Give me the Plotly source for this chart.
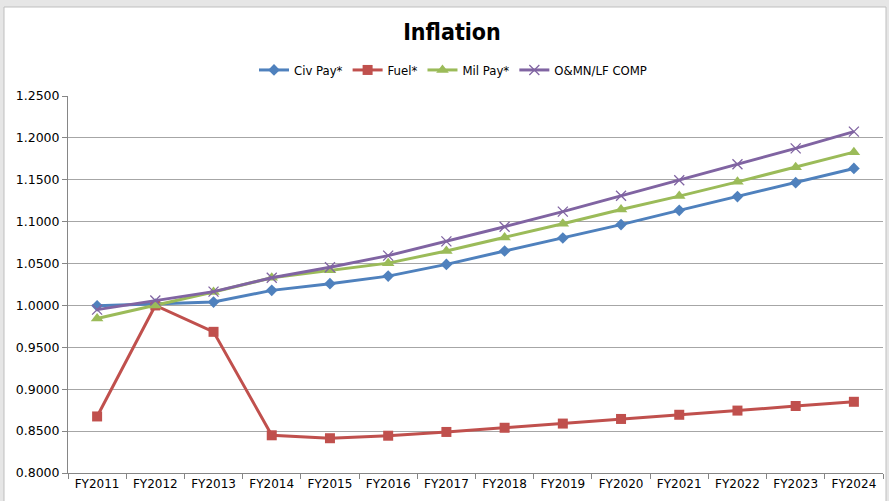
import plotly.graph_objects as go

years = ["FY2011", "FY2012", "FY2013", "FY2014", "FY2015", "FY2016", "FY2017",
         "FY2018", "FY2019", "FY2020", "FY2021", "FY2022", "FY2023", "FY2024"]
civ_pay = [0.9995, 1.0015, 1.0040, 1.0180, 1.0260, 1.0350, 1.0490, 1.0650, 1.0805, 1.0965, 1.1135, 1.1300, 1.1465, 1.1635]
fuel = [0.8675, 1.0000, 0.9685, 0.8450, 0.8415, 0.8445, 0.8490, 0.8540, 0.8590, 0.8645, 0.8695, 0.8745, 0.8800, 0.8850]
mil_pay = [0.9845, 1.0000, 1.0160, 1.0330, 1.0420, 1.0505, 1.0650, 1.0810, 1.0975, 1.1145, 1.1305, 1.1475, 1.1650, 1.1830]
omn = [0.9950, 1.0060, 1.0165, 1.0330, 1.0455, 1.0595, 1.0765, 1.0940, 1.1120, 1.1310, 1.1495, 1.1685, 1.1875, 1.2075]

series = [
    ("Civ Pay*", civ_pay, "#4F81BD", dict(symbol="diamond", size=9)),
    ("Fuel*", fuel, "#C0504D", dict(symbol="square", size=10)),
    ("Mil Pay*", mil_pay, "#9BBB59", dict(symbol="triangle-up", size=11)),
    ("O&MN/LF COMP", omn, "#8064A2", dict(symbol="x-thin-open", size=10, line=dict(width=1.3, color="#8064A2"))),
]

fig = go.Figure()
for name, vals, color, mk in series:
    m = dict(color=color, **mk)
    fig.add_trace(go.Scatter(x=years, y=vals, name=name, mode="lines+markers",
                             line=dict(color=color, width=3), marker=m))

W, H = 889, 501
ml, mr, mt, mb = 68, 6, 96, 28
pw, ph = W - ml - mr, H - mt - mb

def px_x(p):
    return (p - ml) / pw

def px_y(p):
    return 1 - (p - mt) / ph

fig.update_layout(
    width=W, height=H,
    margin=dict(l=ml, r=mr, t=mt, b=mb),
    paper_bgcolor="#E6E6E6",
    plot_bgcolor="rgba(0,0,0,0)",
    title=dict(text="<b>Inflation</b>", x=452 / W, xanchor="center", y=1 - 32 / H, yanchor="middle",
               font=dict(family="Liberation Sans Narrow, DejaVu Sans Condensed, sans-serif", size=23, color="#000000")),
    legend=dict(orientation="h", x=px_x(453), xanchor="center", y=px_y(70), yanchor="middle",
                font=dict(family="Liberation Sans Narrow, DejaVu Sans Condensed, sans-serif", size=13, color="#000000"),
                tracegroupgap=0, bgcolor="rgba(0,0,0,0)"),
    shapes=[dict(type="rect", xref="paper", yref="paper",
                 x0=px_x(4), x1=px_x(886), y0=px_y(7), y1=px_y(505),
                 fillcolor="#FFFFFF", line=dict(color="#BFBFBF", width=1), layer="below")],
    xaxis=dict(type="category", showgrid=False, showline=True, linecolor="#868686", linewidth=1,
               ticks="outside", tickson="boundaries", ticklen=5, tickcolor="#868686",
               tickfont=dict(family="DejaVu Sans, sans-serif", size=12, color="#000000"),
               range=[-0.5, 13.5]),
    yaxis=dict(range=[0.8, 1.25], dtick=0.05, tickformat=".4f", showgrid=True,
               gridcolor="#A6A6A6", gridwidth=1, showline=True, linecolor="#868686", linewidth=1,
               ticks="outside", ticklen=5, tickcolor="#868686", zeroline=False,
               tickfont=dict(family="DejaVu Sans, sans-serif", size=12.5, color="#000000")),
)

fig.write_html("out.html", config={"displayModeBar": False},
               post_script="document.body.style.margin='0';document.body.style.padding='0';")
